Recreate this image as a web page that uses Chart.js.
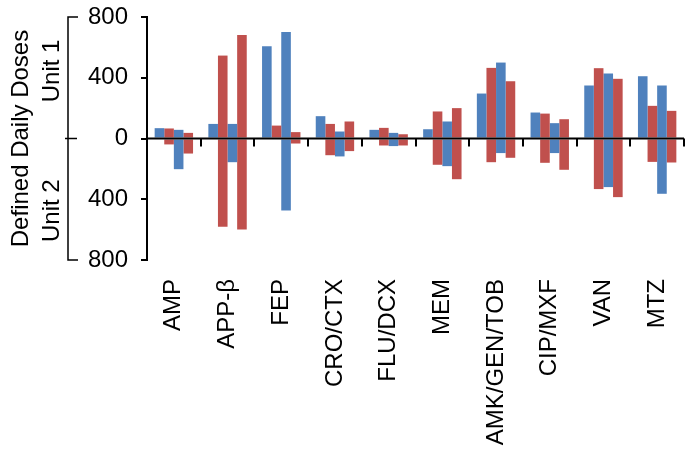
<!DOCTYPE html>
<html>
<head>
<meta charset="utf-8">
<script src="https://cdn.jsdelivr.net/npm/chart.js@4/dist/chart.umd.min.js"></script>
<style>
  html, body { margin: 0; padding: 0; background: #fff; }
  #wrap { width: 692px; height: 456px; }
</style>
</head>
<body>
<div id="wrap"><canvas id="ddd"></canvas></div>
<script>
var drugs = ["AMP", "APP-β", "FEP", "CRO/CTX", "FLU/DCX", "MEM", "AMK/GEN/TOB", "CIP/MXF", "VAN", "MTZ"];

// upper half (Unit 1), four bars per drug
var unit1Bar1 = [68, 96, 607, 147, 57, 61, 296, 171, 349, 410];
var unit1Bar2 = [66, 546, 85, 96, 70, 178, 465, 164, 463, 215];
var unit1Bar3 = [57, 96, 702, 46, 37, 112, 500, 101, 428, 349];
var unit1Bar4 = [37, 682, 42, 112, 28, 200, 377, 127, 393, 182];

// lower half (Unit 2), drawn below zero
var unit2Bar1 = [0, 0, 0, 0, 0, 0, 0, 0, 0, 0];
var unit2Bar2 = [-39, -581, 0, -110, -46, -173, -156, -160, -333, -154];
var unit2Bar3 = [-202, -156, -474, -118, -50, -182, -96, -96, -320, -364];
var unit2Bar4 = [-99, -599, -33, -83, -46, -268, -127, -206, -386, -158];

var yTicks = [-800, -400, 0, 400, 800];

var blue = "#4F81BD";
var red = "#C0504D";
var font = "'Liberation Sans', Arial, sans-serif";

function bar(data, stack, color) {
  return { data: data, stack: stack, backgroundColor: color, borderWidth: 0 };
}

var datasets = [
  bar(unit1Bar1, "s1", blue), bar(unit2Bar1, "s1", blue),
  bar(unit1Bar2, "s2", red),  bar(unit2Bar2, "s2", red),
  bar(unit1Bar3, "s3", blue), bar(unit2Bar3, "s3", blue),
  bar(unit1Bar4, "s4", red),  bar(unit2Bar4, "s4", red)
];

// zero line with small ticks + the left side labels/bracket
var decor = {
  id: "decor",
  afterDatasetsDraw: function (chart) {
    var ctx = chart.ctx;
    var x = chart.scales.x, y = chart.scales.y;
    var y0 = y.getPixelForValue(0);
    ctx.save();
    ctx.strokeStyle = "#000";
    ctx.lineWidth = 2;
    ctx.beginPath();
    ctx.moveTo(x.left, y0);
    ctx.lineTo(x.right, y0);
    var step = (x.right - x.left) / drugs.length;
    for (var i = 1; i <= drugs.length; i++) {
      var px = Math.round(x.left + i * step);
      ctx.moveTo(px, y0);
      ctx.lineTo(px, y0 + 8);
    }
    ctx.stroke();

    // bracket
    var bx = 68;
    var top = y.getPixelForValue(800), bot = y.getPixelForValue(-800);
    ctx.lineWidth = 1.5;
    ctx.beginPath();
    ctx.moveTo(bx + 10, top); ctx.lineTo(bx, top); ctx.lineTo(bx, bot); ctx.lineTo(bx + 10, bot);
    ctx.moveTo(bx - 3, y0); ctx.lineTo(bx + 9, y0);
    ctx.stroke();

    ctx.fillStyle = "#000";
    ctx.font = "24px " + font;
    ctx.textAlign = "center";
    ctx.textBaseline = "middle";
    function vtext(t, cx, cy) {
      ctx.save();
      ctx.translate(cx, cy);
      ctx.rotate(-Math.PI / 2);
      ctx.fillText(t, 0, 0);
      ctx.restore();
    }
    vtext("Defined Daily Doses", 21, y0);
    vtext("Unit 1", 52, y.getPixelForValue(445));
    vtext("Unit 2", 52, y.getPixelForValue(-475));
    ctx.restore();
  }
};

new Chart(document.getElementById("ddd"), {
  type: "bar",
  data: { labels: drugs, datasets: datasets },
  options: {
    responsive: true,
    maintainAspectRatio: false,
    animation: false,
    events: [],
    layout: { padding: { top: 17, right: 8, left: 0, bottom: 0 } },
    datasets: { bar: { categoryPercentage: 0.715, barPercentage: 1 } },
    plugins: { legend: { display: false }, tooltip: { enabled: false } },
    scales: {
      x: {
        stacked: true,
        grid: { display: false, drawTicks: false },
        border: { display: false },
        ticks: {
          color: "#000",
          font: { family: font, size: 24 },
          minRotation: 90,
          maxRotation: 90,
          autoSkip: false,
          padding: 19
        },
        afterFit: function (s) { s.height = 196; s.paddingLeft = 0; s.paddingRight = 0; }
      },
      y: {
        stacked: true,
        min: -800,
        max: 800,
        afterBuildTicks: function (s) { s.ticks = yTicks.map(function (v) { return { value: v }; }); },
        grid: { drawOnChartArea: false, tickLength: 6, color: "#000", lineWidth: 2 },
        border: { color: "#000", width: 2 },
        ticks: {
          color: "#000",
          font: { family: font, size: 24 },
          padding: 13,
          callback: function (v) { return Math.abs(v); }
        },
        afterFit: function (s) { s.width = 147; s.paddingTop = 0; s.paddingBottom = 0; }
      }
    }
  },
  plugins: [decor]
});
</script>
</body>
</html>
